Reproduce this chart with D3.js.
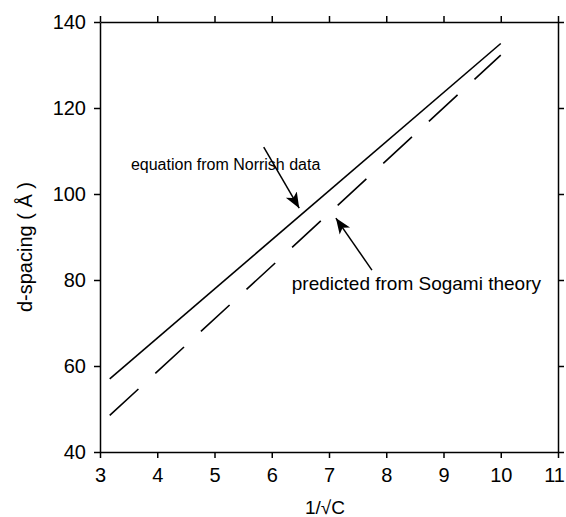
<!DOCTYPE html>
<html>
<head>
<meta charset="utf-8">
<script src="https://cdn.jsdelivr.net/npm/d3@7"></script>
<style>
  body { margin: 0; background: #fff; }
  svg { display: block; font-family: "Liberation Sans", Arial, sans-serif; }
</style>
</head>
<body>
<div id="chart"></div>
<script>
// data
const xTicks = [3, 4, 5, 6, 7, 8, 9, 10, 11];
const yTicks = [40, 60, 80, 100, 120, 140];
const norrishX = [3.17, 10];
const norrishY = [57, 135];
const sogamiX = [3.17, 10];
const sogamiY = [48.5, 132.3];
// annotations: [tailX, tailY, tipX, tipY]
const arrowNorrish = [5.86, 110.9, 6.48, 96.7];
const arrowSogami = [7.75, 82.3, 7.12, 94.4];
const labels = [
  { text: "equation from Norrish data", x: 3.54, y: 105.6, size: 16 },
  { text: "predicted from Sogami theory", x: 6.35, y: 77.7, size: 19 },
];

const dimensions = {
  width: 566,
  height: 517,
  margin: { left: 100, right: 8, top: 22, bottom: 65 },
};

const xScale = d3.scaleLinear()
  .domain([3, 11])
  .range([dimensions.margin.left, dimensions.width - dimensions.margin.right]);

const yScale = d3.scaleLinear()
  .domain([40, 140])
  .range([dimensions.height - dimensions.margin.bottom, dimensions.margin.top]);

const svg = d3.select("#chart")
  .append("svg")
  .attr("width", dimensions.width)
  .attr("height", dimensions.height);

// axes ======
svg.append("g")
  .attr("transform", `translate(0,${yScale(40)})`)
  .call(d3.axisBottom(xScale).tickValues(xTicks).tickSize(6).tickSizeOuter(0).tickPadding(10));

svg.append("g")
  .attr("transform", `translate(0,${yScale(140)})`)
  .call(d3.axisTop(xScale).tickValues(xTicks).tickSize(6).tickSizeOuter(0).tickFormat(""));

svg.append("g")
  .attr("transform", `translate(${xScale(3)},0)`)
  .call(d3.axisLeft(yScale).tickValues(yTicks).tickSize(6).tickSizeOuter(0).tickPadding(8));

svg.append("g")
  .attr("transform", `translate(${xScale(11)},0)`)
  .call(d3.axisRight(yScale).tickValues(yTicks).tickSize(6).tickSizeOuter(0).tickFormat(""));

svg.selectAll(".domain, .tick line")
  .attr("stroke", "#000")
  .attr("stroke-width", 1.5);

svg.selectAll(".tick text")
  .attr("fill", "#000")
  .style("font-size", "20px")
  .style("font-family", "'Liberation Sans', Arial, sans-serif");

// last x label sits on the edge
svg.selectAll(".tick text")
  .filter((d) => d === 11)
  .attr("dx", "-4");

// axis titles
svg.append("text")
  .attr("x", (xScale(3) + xScale(11)) / 2 - 4)
  .attr("y", 514)
  .attr("text-anchor", "middle")
  .style("font-size", "19px")
  .text("1/√C");

svg.append("text")
  .attr("transform", `translate(32,${(yScale(40) + yScale(140)) / 2 + 10}) rotate(-90)`)
  .attr("text-anchor", "middle")
  .style("font-size", "20px")
  .text("d-spacing ( Å )");

// lines ======
const line = d3.line()
  .x((d) => xScale(d[0]))
  .y((d) => yScale(d[1]));

svg.append("path")
  .datum(d3.zip(norrishX, norrishY))
  .attr("d", line)
  .attr("fill", "none")
  .attr("stroke", "#000")
  .attr("stroke-width", 1.6);

svg.append("path")
  .datum(d3.zip(sogamiX, sogamiY))
  .attr("d", line)
  .attr("fill", "none")
  .attr("stroke", "#000")
  .attr("stroke-width", 1.6)
  .attr("stroke-dasharray", "39,23");

// annotations ======
svg.append("defs")
  .append("marker")
  .attr("id", "head")
  .attr("viewBox", "0 0 10 10")
  .attr("refX", 10)
  .attr("refY", 5)
  .attr("markerWidth", 10.5)
  .attr("markerHeight", 10.5)
  .attr("markerUnits", "strokeWidth")
  .attr("orient", "auto")
  .append("path")
  .attr("d", "M0,1 L10,5 L0,9 L2.5,5 Z")
  .attr("fill", "#000");

[arrowNorrish, arrowSogami].forEach((a) => {
  svg.append("line")
    .attr("x1", xScale(a[0]))
    .attr("y1", yScale(a[1]))
    .attr("x2", xScale(a[2]))
    .attr("y2", yScale(a[3]))
    .attr("stroke", "#000")
    .attr("stroke-width", 1.5)
    .attr("marker-end", "url(#head)");
});

svg.selectAll(".label")
  .data(labels)
  .join("text")
  .classed("label", true)
  .attr("x", (d) => xScale(d.x))
  .attr("y", (d) => yScale(d.y))
  .style("font-size", (d) => d.size + "px")
  .text((d) => d.text);
</script>
</body>
</html>
